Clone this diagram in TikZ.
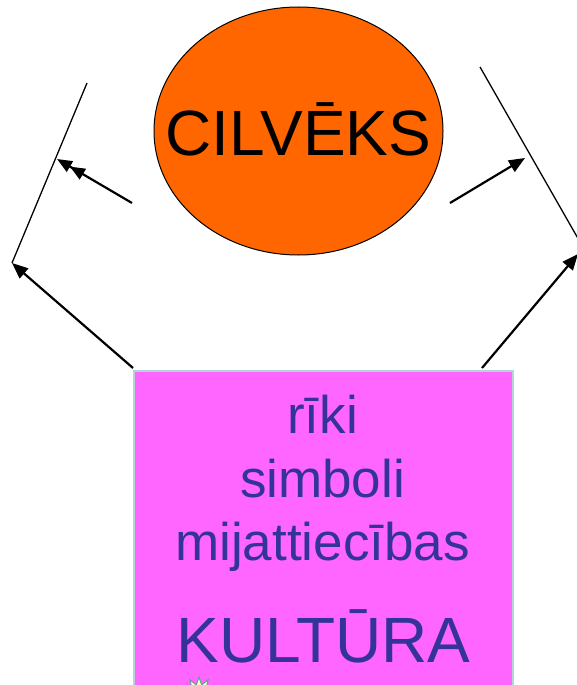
\documentclass[tikz,border=0pt]{standalone}
\usepackage{fontspec}
\setmainfont{Liberation Sans}
\usetikzlibrary{arrows.meta, shapes.geometric}

\definecolor{orangefill}{HTML}{FF6600}
\definecolor{pinkfill}{HTML}{FF66FF}
\definecolor{boxedge}{HTML}{B4D4DC}
\definecolor{textblue}{HTML}{333399}
\definecolor{burstedge}{HTML}{5FA0A0}
\definecolor{burstfill}{HTML}{FFFFCC}

\tikzset{
  flow/.style={-{Triangle[length=16pt,width=13pt]}, line width=2.2pt},
  dflow/.style={-{Triangle[length=15pt,width=12pt]Triangle[length=15pt,width=12pt]}, line width=2.2pt},
  mirror/.style={line width=1.3pt},
  boxtext/.style={anchor=base, text=textblue, inner sep=0pt}
}

\begin{document}
\begin{tikzpicture}[x=1pt, y=-1pt]
  \useasboundingbox (0,0) rectangle (577,685);
  \clip (0,0) rectangle (577,685);

  % Man
  \node[ellipse, draw, line width=1pt, fill=orangefill, minimum width=289pt,
        minimum height=248pt, inner sep=0pt] (cilveks) at (298.5,131) {};
  \node[anchor=base, inner sep=0pt, font=\fontsize{64}{70}\selectfont] (cilvtxt)
        at (298.5,155) {CILVĒKS};

  % Culture box
  \node[draw=boxedge, line width=1.5pt, fill=pinkfill, anchor=north west,
        minimum width=379pt, minimum height=340pt, inner sep=0pt] (kultura) at (133,370) {};
  \node[boxtext, font=\fontsize{53}{60}\selectfont] (riki) at (322.5,433) {rīki};
  \node[boxtext, font=\fontsize{53}{60}\selectfont] (simboli) at (322.5,497) {simboli};
  \node[boxtext, font=\fontsize{53}{60}\selectfont] (mijatt) at (322.5,560) {mijattiecības};
  \node[boxtext, font=\fontsize{64}{70}\selectfont] (kulttxt) at (323.5,662) {KULTŪRA};
  \node[star, star points=11, star point ratio=1.8, minimum size=34pt, inner sep=0pt,
        draw=burstedge, line width=1pt, fill=burstfill] (burst) at (199,694) {};

  % Mirror lines
  \coordinate (lt) at (87,83);
  \coordinate (lb) at (12,263);
  \coordinate (rt) at (480,67);
  \coordinate (rb) at (580,242);
  \draw[mirror] (lt) -- (lb);
  \draw[mirror] (rt) -- (rb);

  % Arrows
  \coordinate (lfrom) at (132,203);
  \coordinate (lto) at (57,159);
  \coordinate (rfrom) at (450,203);
  \coordinate (rto) at (525,158);
  \coordinate (kl) at (133,368);
  \coordinate (kr) at (482,368);
  \coordinate (rbt) at (578,254);
  \draw[dflow] (lfrom) -- (lto);
  \draw[flow] (rfrom) -- (rto);
  \draw[flow] (kl) -- (lb);
  \draw[flow] (kr) -- (rbt);
\end{tikzpicture}
\end{document}
